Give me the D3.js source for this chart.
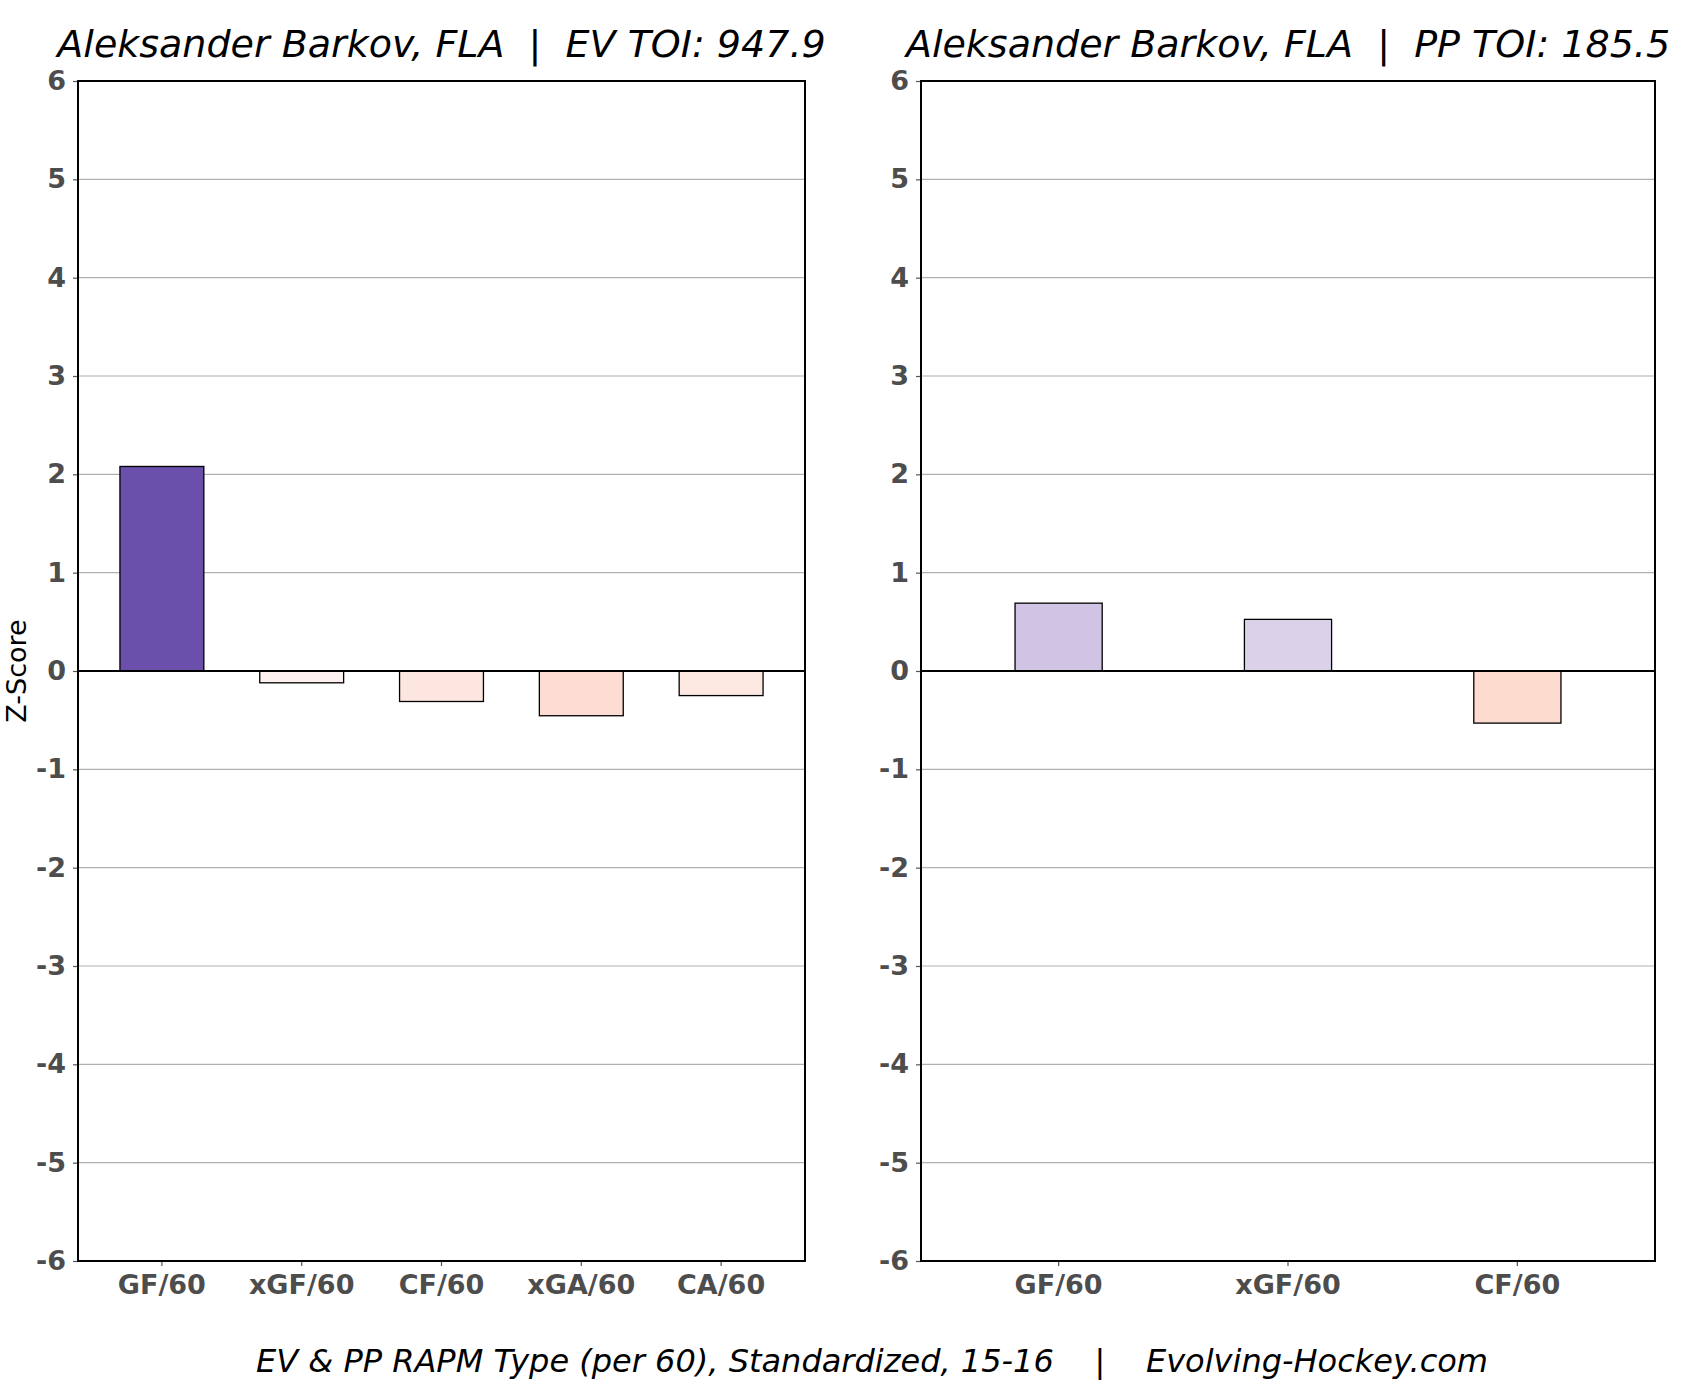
<!DOCTYPE html>
<html>
<head>
<meta charset="utf-8">
<script src="https://cdn.jsdelivr.net/npm/d3@7"></script>
<style>
  body { margin: 0; background: #fff; }
  svg { display: block; font-family: "DejaVu Sans", sans-serif; }
</style>
</head>
<body>
<svg id="chart" width="1692" height="1391"></svg>
<script>
// data
var playerName = "Aleksander Barkov, FLA";
var evToi = "947.9";
var ppToi = "185.5";

var evCategories = ["GF/60", "xGF/60", "CF/60", "xGA/60", "CA/60"];
var evValues = [2.08, -0.12, -0.31, -0.455, -0.25];
var evColors = ["#6a4fab", "#fdf2ef", "#fde6e0", "#fddcd3", "#fde8e2"];

var ppCategories = ["GF/60", "xGF/60", "CF/60"];
var ppValues = [0.69, 0.525, -0.53];
var ppColors = ["#d0c3e4", "#dbd2ea", "#fddbcf"];

var yTicks = [6, 5, 4, 3, 2, 1, 0, -1, -2, -3, -4, -5, -6];
var footer = "EV & PP RAPM Type (per 60), Standardized, 15-16    |    Evolving-Hockey.com";

var svg = d3.select("#chart");
var top0 = 81, bottom0 = 1261;

// one panel = one axes box
function drawPanel(left, right, cats, vals, cols, title, padInner, padOuter) {
  var g = svg.append("g");

  var x = d3.scaleBand()
    .domain(cats)
    .range([left, right])
    .paddingInner(padInner)
    .paddingOuter(padOuter);

  var y = d3.scaleLinear()
    .domain([-6, 6])
    .range([bottom0, top0]);

  // grid
  g.append("g").selectAll("line")
    .data(yTicks.filter(function(d) { return d != 0 && d != 6 && d != -6; }))
    .enter().append("line")
    .attr("x1", left).attr("x2", right)
    .attr("y1", function(d) { return y(d); })
    .attr("y2", function(d) { return y(d); })
    .attr("stroke", "#b0b0b0")
    .attr("stroke-width", 1.2);

  // bars
  g.append("g").selectAll("rect")
    .data(vals)
    .enter().append("rect")
    .attr("x", function(d, i) { return x(cats[i]); })
    .attr("y", function(d) { return y(Math.max(0, d)); })
    .attr("width", x.bandwidth())
    .attr("height", function(d) { return Math.abs(y(d) - y(0)); })
    .attr("fill", function(d, i) { return cols[i]; })
    .attr("stroke", "#000")
    .attr("stroke-width", 1.3);

  // zero line
  g.append("line")
    .attr("x1", left).attr("x2", right)
    .attr("y1", y(0)).attr("y2", y(0))
    .attr("stroke", "#000")
    .attr("stroke-width", 2);

  // y axis - plain hyphen for negatives like the original
  var ya = g.append("g")
    .attr("transform", "translate(" + left + ",0)")
    .call(d3.axisLeft(y).tickValues(yTicks)
      .tickFormat(function(d) { return String(d); })
      .tickSize(5).tickPadding(7));
  ya.select(".domain").remove();

  // x axis
  var xa = g.append("g")
    .attr("transform", "translate(0," + bottom0 + ")")
    .call(d3.axisBottom(x).tickSize(5).tickPadding(4));
  xa.select(".domain").remove();

  g.selectAll(".tick line").attr("stroke", "#555").attr("stroke-width", 1.2);
  g.selectAll(".tick text")
    .attr("fill", "#4d4d4d")
    .attr("font-size", 27)
    .attr("font-weight", "bold")
    .attr("font-family", "DejaVu Sans");
  xa.selectAll(".tick text").attr("dy", "0.9em");

  // frame
  g.append("rect")
    .attr("x", left).attr("y", top0)
    .attr("width", right - left).attr("height", bottom0 - top0)
    .attr("fill", "none")
    .attr("stroke", "#000")
    .attr("stroke-width", 2);

  // title
  svg.append("text")
    .attr("x", (left + right) / 2)
    .attr("y", 57)
    .attr("text-anchor", "middle")
    .attr("font-size", 38)
    .attr("font-style", "italic")
    .attr("fill", "#000")
    .style("white-space", "pre")
    .text(title);
}

drawPanel(78, 805, evCategories, evValues, evColors,
  playerName + "  |  EV TOI: " + evToi, 0.4, 0.3);
drawPanel(921, 1655, ppCategories, ppValues, ppColors,
  playerName + "  |  PP TOI: " + ppToi, 0.62, 0.41);

// y label
svg.append("text")
  .attr("transform", "translate(26," + ((top0 + bottom0) / 2) + ") rotate(-90)")
  .attr("text-anchor", "middle")
  .attr("font-size", 27)
  .attr("fill", "#000")
  .text("Z-Score");

// footer label
svg.append("text")
  .attr("x", 872)
  .attr("y", 1372)
  .attr("text-anchor", "middle")
  .attr("font-size", 32)
  .attr("font-style", "italic")
  .attr("fill", "#000")
  .style("white-space", "pre")
  .text(footer);
</script>
</body>
</html>
